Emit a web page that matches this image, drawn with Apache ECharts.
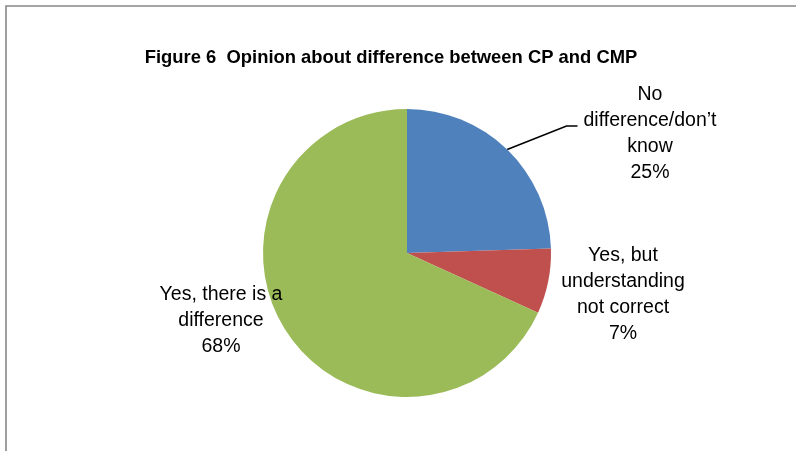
<!DOCTYPE html>
<html>
<head>
<meta charset="utf-8">
<script src="https://cdn.jsdelivr.net/npm/echarts@6/dist/echarts.min.js"></script>
<style>
  html, body { margin: 0; padding: 0; background: #ffffff; }
  #chart { width: 796px; height: 451px; }
</style>
</head>
<body>
<div id="chart"></div>
<script>
const titleText = 'Figure 6  Opinion about difference between CP and CMP';
const categories = ['No\ndifference/don\u2019t\nknow', 'Yes, but\nunderstanding\nnot correct', 'Yes, there is a\ndifference'];
const values = [24.5, 7.3, 68.2];
const colors = ['#4F81BD', '#C0504D', '#9BBB59'];

// label placement (centres of the text blocks)
const labelPos = [[650, 134], [623, 295], [221, 321]];

const chart = echarts.init(document.getElementById('chart'), null, { renderer: 'canvas' });

const option = {
  backgroundColor: '#ffffff',
  animation: false,
  title: {
    text: titleText,
    left: 386,
    top: 44,
    textAlign: 'center',
    textStyle: {
      fontFamily: 'Liberation Sans',
      fontWeight: 'bold',
      fontSize: 18.4,
      color: '#000000'
    }
  },
  graphic: [{
    type: 'rect',
    silent: true,
    shape: { x: 6, y: 6, width: 830, height: 500 },
    style: { fill: 'none', stroke: '#878787', lineWidth: 1.6 }
  }],
  series: [{
    type: 'pie',
    center: [407, 253],
    radius: 144,
    startAngle: 90,
    clockwise: true,
    avoidLabelOverlap: false,
    itemStyle: { borderWidth: 0 },
    emphasis: { disabled: true },
    label: {
      show: true,
      position: 'outside',
      fontFamily: 'Liberation Sans',
      fontSize: 19.5,
      lineHeight: 26,
      color: '#000000',
      formatter: function (p) { return p.name + '\n' + Math.round(p.percent) + '%'; }
    },
    labelLine: { show: false },
    labelLayout: function (params) {
      const i = params.dataIndex;
      const x = labelPos[i][0], y = labelPos[i][1];
      const res = { x: x, y: y, align: 'center', verticalAlign: 'middle' };
      if (i === 0 && params.labelLinePoints) {
        const w = params.labelRect.width;
        const p0 = params.labelLinePoints[0];
        const ex = x - w / 2 - 6, ey = y - 8;
        res.labelLinePoints = [p0, [ex - 11, ey], [ex, ey]];
      }
      return res;
    },
    data: categories.map(function (c, i) {
      const d = { name: c, value: values[i], itemStyle: { color: colors[i] } };
      if (i === 0) d.labelLine = { show: true, lineStyle: { color: '#000000', width: 1.6 } };
      return d;
    })
  }]
};

chart.setOption(option);
</script>
</body>
</html>
